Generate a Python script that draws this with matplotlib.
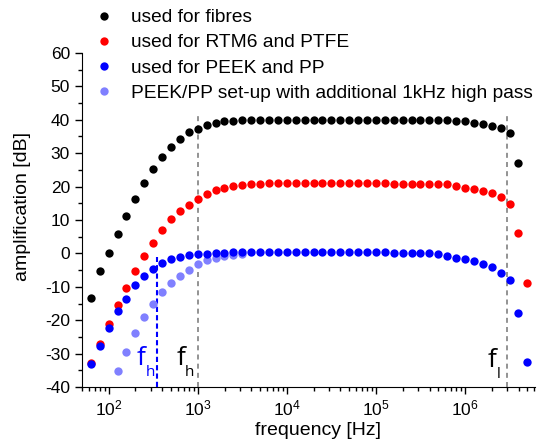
import matplotlib
matplotlib.use("Agg")
import matplotlib.pyplot as plt
from matplotlib.ticker import MultipleLocator, LogLocator

plt.rcParams['font.family'] = ['Liberation Sans', 'DejaVu Sans']
plt.rcParams['axes.unicode_minus'] = False

# frequency grid of the measurement [Hz]
freq = [63.1, 79.4, 100, 125.9, 158.5, 199.5, 251.2, 316.2, 398.1, 501.2,
        631, 794.3, 1000, 1259, 1585, 1995, 2512, 3162, 3981, 5012,
        6310, 7943, 1e4, 12590, 15850, 19950, 25120, 31620, 39810, 50120,
        63100, 79430, 1e5, 125900, 158500, 199500, 251200, 316200, 398100, 501200,
        631000, 794300, 1e6, 1.259e6, 1.585e6, 1.995e6, 2.512e6, 3.162e6, 3.981e6, 5.012e6]

fibres = [-13.4, -5.2, 0.0, 5.7, 11.3, 16.4, 21.0, 25.2, 28.7, 31.8,
          34.2, 36.2, 37.3, 38.4, 39.0, 39.5, 39.7, 39.9, 40.0, 40.0,
          40.0, 40.0, 40.0, 40.0, 40.0, 40.0, 40.0, 40.0, 40.0, 40.0,
          40.0, 40.0, 40.0, 40.0, 40.0, 40.0, 40.0, 40.0, 40.0, 40.0,
          40.0, 39.7, 39.5, 39.1, 38.7, 38.2, 37.6, 36.0, 27.0]

rtm6 = [-32.8, -27.0, -21.2, -15.3, -10.3, -5.2, -0.7, 3.2, 7.0, 10.2,
        12.6, 14.6, 16.3, 17.9, 18.9, 19.6, 20.2, 20.5, 20.7, 20.9,
        21.0, 21.0, 21.0, 21.0, 21.0, 21.0, 21.0, 21.0, 21.0, 21.0,
        21.0, 21.0, 21.0, 21.0, 20.7, 20.7, 20.7, 20.7, 20.7, 20.7,
        20.7, 20.1, 19.7, 19.3, 18.8, 18.2, 17.0, 14.8, 6.0, -8.8]

peek = [-33.0, -27.6, -22.4, -17.2, -13.5, -9.6, -6.9, -4.7, -2.9, -1.7,
        -1.0, -0.6, -0.3, -0.1, 0.1, 0.2, 0.4, 0.4, 0.4, 0.4,
        0.4, 0.4, 0.4, 0.4, 0.4, 0.4, 0.4, 0.4, 0.4, 0.4,
        0.4, 0.4, 0.4, 0.4, 0.1, 0.1, 0.1, 0.1, 0.1, -0.2,
        -0.7, -1.3, -1.8, -2.4, -3.1, -4.1, -5.8, -8.0, -17.8, -32.5]

# PEEK/PP with extra 1 kHz high pass, measured from 126 Hz to 3.2 kHz
hp_freq = freq[3:18]
peek_hp = [-35.3, -29.5, -23.8, -19.1, -15.2, -11.7, -9.0, -6.8, -4.9, -3.3,
           -2.1, -1.4, -0.9, -0.5, -0.2]

labels = ['used for fibres', 'used for RTM6 and PTFE', 'used for PEEK and PP',
          'PEEK/PP set-up with additional 1kHz high pass']

f_h_black = 1000
f_h_blue = 350
f_l = 3e6

fig = plt.figure(figsize=(5.42, 4.48), dpi=100)
ax = fig.add_axes([0.151, 0.136, 0.836, 0.746])

ms = 6
h1, = ax.plot(freq[:len(fibres)], fibres, 'o', color='black', ms=ms, mew=0, zorder=4)
h2, = ax.plot(freq, rtm6, 'o', color='#ff0000', ms=ms, mew=0, zorder=4)
h4, = ax.plot(hp_freq, peek_hp, 'o', color='#8080ff', ms=ms, mew=0, zorder=4)
h3, = ax.plot(freq, peek, 'o', color='#0000ff', ms=ms, mew=0, zorder=5)

ax.vlines([f_h_black, f_l], -40, 42, colors='#808080', linestyles=(0, (3, 2.5)), lw=1.2, zorder=3)
ax.vlines([f_h_blue], -40, -1, colors='#0000ff', linestyles=(0, (2.5, 1.5)), lw=1.5, zorder=3)

# cut-off frequency labels
fkw = dict(family=['Open Sans', 'DejaVu Sans'], va='baseline')
ax.text(205, -33.5, 'f', color='#0000ff', fontsize=19, **fkw)
ax.text(258, -36.8, 'h', color='#0000ff', fontsize=11, **fkw)
ax.text(578, -33.5, 'f', color='black', fontsize=19, **fkw)
ax.text(722, -36.8, 'h', color='black', fontsize=11, **fkw)
ax.text(1.78e6, -34.1, 'f', color='black', fontsize=19, **fkw)
ax.text(2.3e6, -37.2, 'l', color='black', fontsize=11, **fkw)

ax.set_xscale('log')
ax.set_xlim(50, 6.1e6)
ax.set_ylim(-40, 60)
ax.yaxis.set_major_locator(MultipleLocator(10))
ax.yaxis.set_minor_locator(MultipleLocator(5))
ax.xaxis.set_major_locator(LogLocator(base=10, numticks=20))
ax.xaxis.set_minor_locator(LogLocator(base=10, subs=range(2, 10), numticks=20))

for s in ['top', 'right']:
    ax.spines[s].set_visible(False)
ax.tick_params(which='major', direction='out', length=5, width=1, labelsize=12.5)
ax.tick_params(which='minor', direction='out', length=3, width=1)

ax.set_xlabel('frequency [Hz]', fontsize=14)
ax.set_ylabel('amplification [dB]', fontsize=14)
ax.xaxis.set_label_coords(0.521, -0.105)
ax.yaxis.set_label_coords(-0.112, 0.539)

fig.legend([h1, h2, h3, h4], labels, loc='upper left', bbox_to_anchor=(0.174, 0.98),
           frameon=False, fontsize=13.8, handlelength=1.0, handletextpad=0.93,
           labelspacing=0.4, borderpad=0, borderaxespad=0, numpoints=1)

fig.savefig('out.png', dpi=100)
